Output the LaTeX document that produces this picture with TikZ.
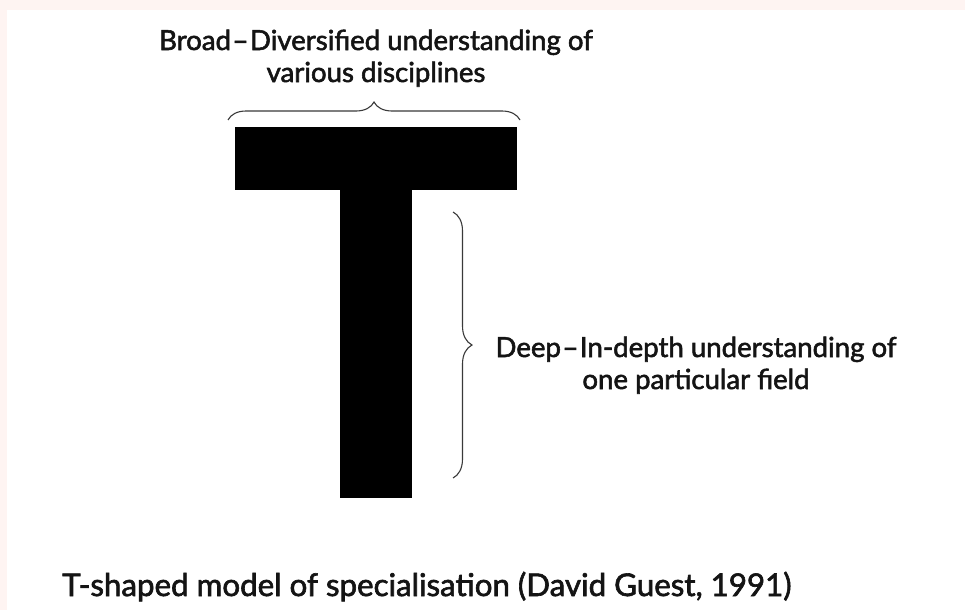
\documentclass[tikz,border=0pt]{standalone}
\usepackage{fontspec}
\setmainfont{Lato}[FakeBold=2]
\usetikzlibrary{decorations.pathreplacing}
\definecolor{pinkbg}{HTML}{FEF4F2}
\definecolor{bracegray}{HTML}{3A3A3A}
\tikzset{
  lbl/.style={anchor=base, inner sep=0pt, font=\fontsize{27.6}{30}\selectfont, text=black!92},
  captext/.style={anchor=base west, inner sep=0pt, font=\fontsize{31.3}{34}\selectfont, text=black!92},
  bracestyle/.style={draw=bracegray, line width=1.1pt, decorate, decoration={brace, amplitude=#1, aspect=0.5}},
  tshape/.style={fill=black, draw=none}
}
\newcommand{\mydash}{\kern1.5pt--\kern1.5pt}
\begin{document}
\begin{tikzpicture}[x=1pt,y=-1pt]
\useasboundingbox (0,0) rectangle (965,610);
\fill[pinkbg] (0,0) rectangle (965,610);
\fill[white] (7,10) rectangle (965,610);
% T shape
\node[tshape, minimum width=282pt, minimum height=63pt, inner sep=0pt] (bar) at (376,158.5) {};
\node[tshape, minimum width=72pt, minimum height=309pt, inner sep=0pt] (stem) at (376,343.5) {};
% braces
\coordinate (b1s) at (228,120);
\coordinate (b1e) at (520,120);
\draw[bracestyle=18pt] (b1s) -- (b1e);
\coordinate (b2s) at (453,212);
\coordinate (b2e) at (453,478);
\draw[bracestyle=19pt] (b2s) -- (b2e);
% labels
\node[lbl] (broad1) at (376,50) {Broad\mydash Diversified understanding of};
\node[lbl] (broad2) at (376,82) {various disciplines};
\node[lbl] (deep1) at (696,357) {Deep\mydash In-depth understanding of};
\node[lbl] (deep2) at (696,389) {one particular field};
\node[captext] (caption) at (62,596) {T-shaped model of specialisation (David Guest, 1991)};
\end{tikzpicture}
\end{document}
